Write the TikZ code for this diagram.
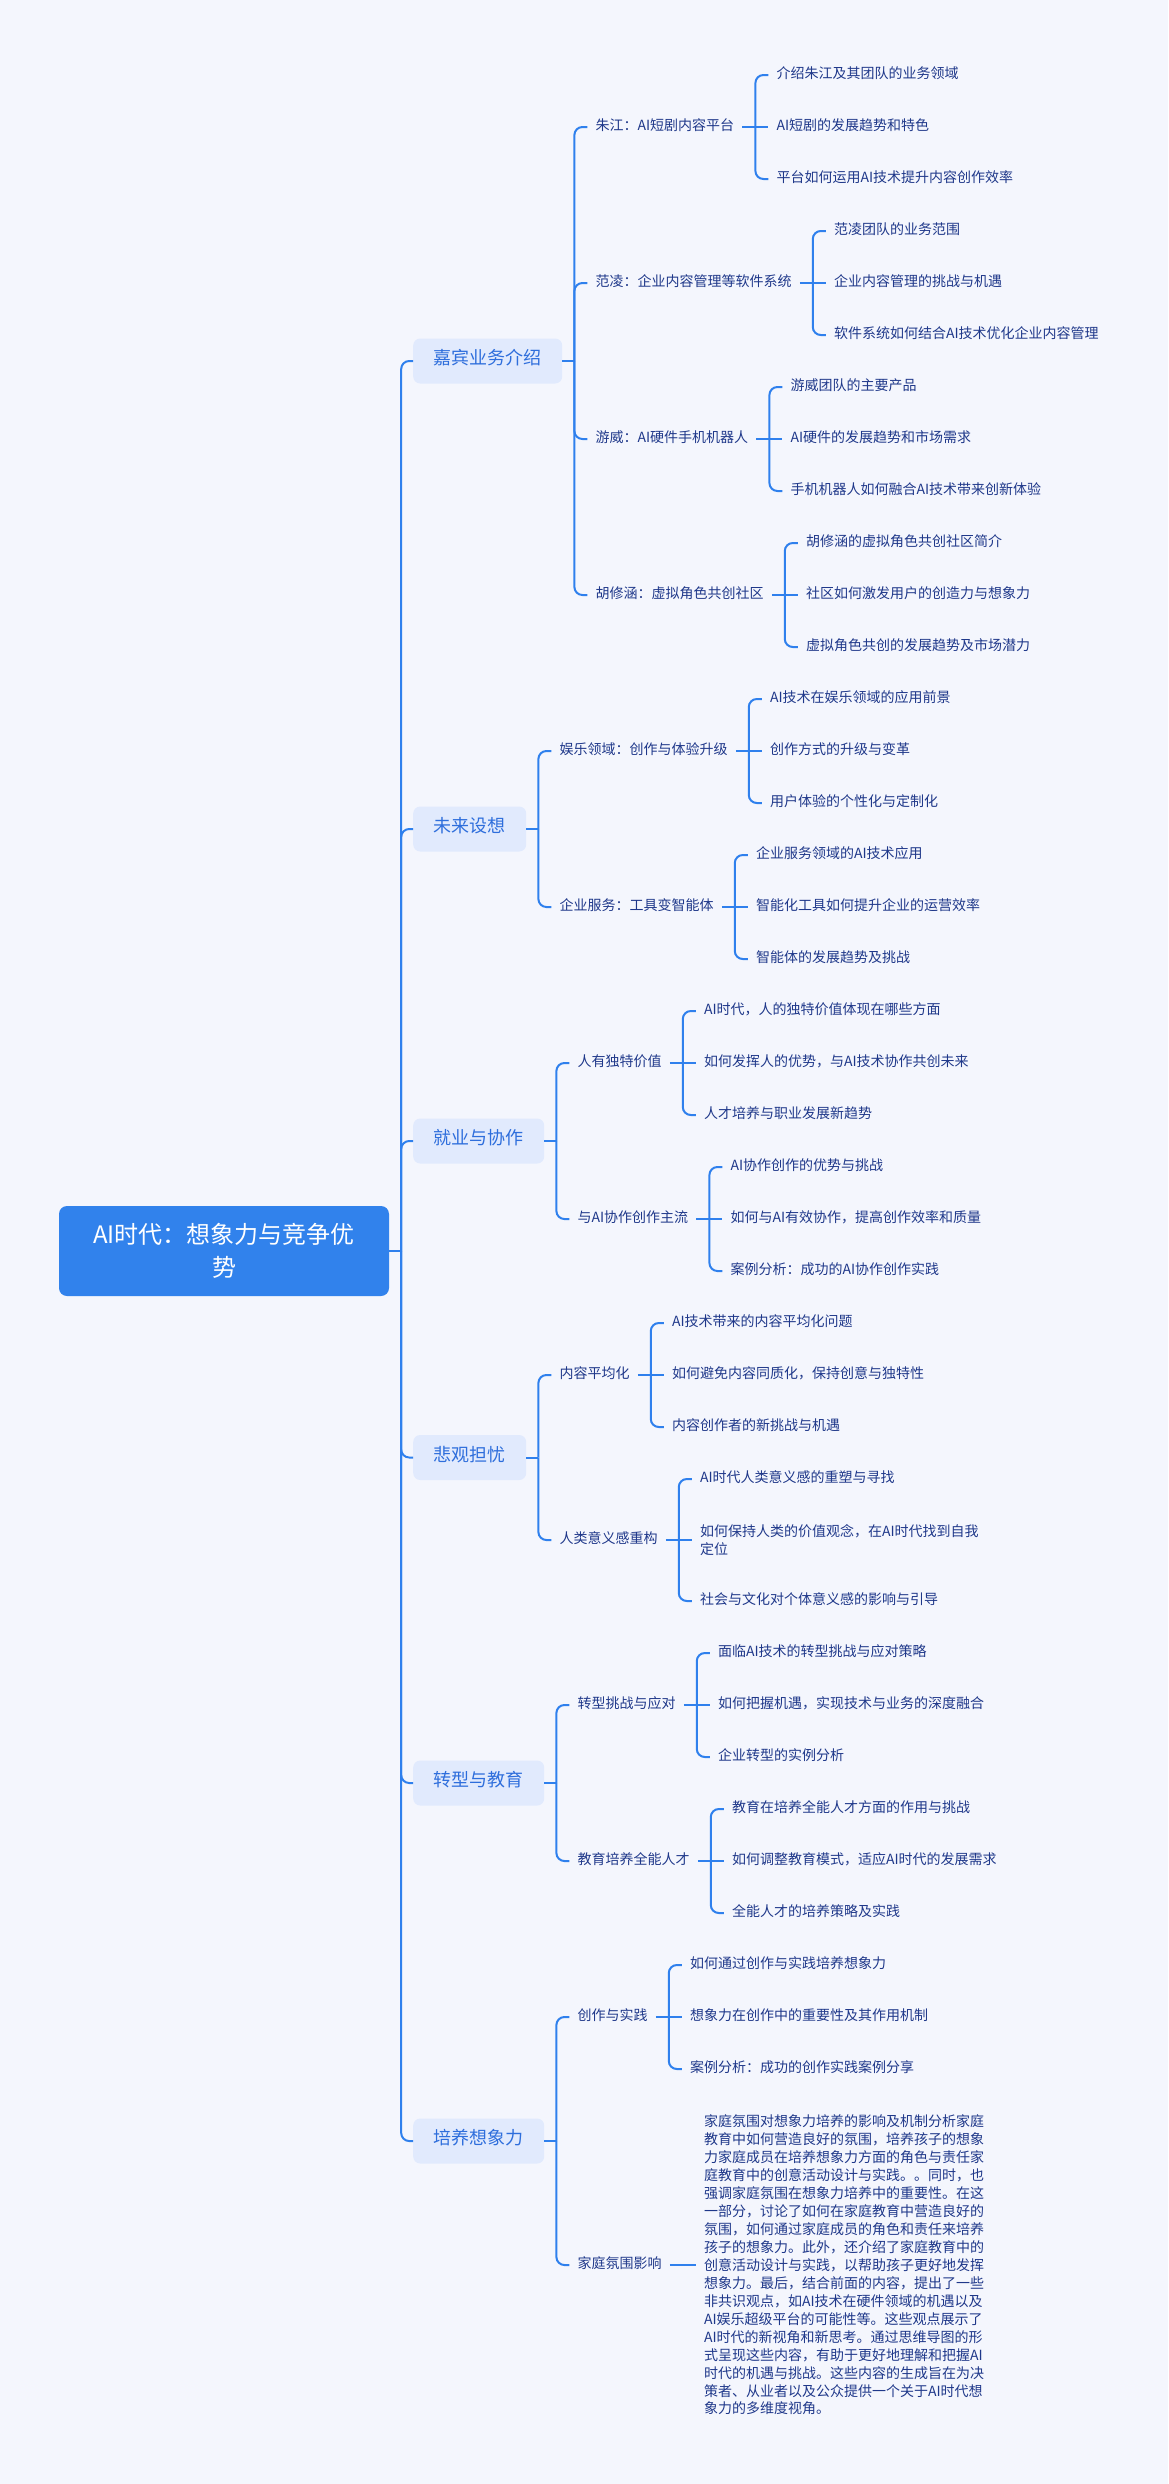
\documentclass[tikz,border=0pt]{standalone}
\usepackage{fontspec}
\setmainfont{Noto Sans CJK SC}
\usetikzlibrary{calc}
\definecolor{bgc}{RGB}{244,246,253}
\definecolor{linec}{RGB}{47,128,237}
\definecolor{rootc}{RGB}{49,130,236}
\definecolor{lonec}{RGB}{225,234,253}
\definecolor{lonet}{RGB}{46,110,220}
\definecolor{txtc}{RGB}{31,56,138}
\newcommand\mkkids[4]{%
  \coordinate (#1L) at ($(#1.east)+(21,0)$);
  \draw[conn] ($(#1.east)+(8,0)$) -- (#1L);
  \node[ltxt] (#1x) at ($(#1L)+(21,-52)$) {#2};
  \node[ltxt] (#1y) at ($(#1L)+(21,0)$) {#3};
  \node[ltxt] (#1z) at ($(#1L)+(21,52)$) {#4};
  \draw[conn] (#1L) |- ($(#1x.west)+(-8,0)$);
  \draw[conn] (#1L) -- ($(#1y.west)+(-8,0)$);
  \draw[conn] (#1L) |- ($(#1z.west)+(-8,0)$);
}
\begin{document}
\begin{tikzpicture}[x=1pt,y=-1pt,
  conn/.style={draw=linec, line width=2pt, rounded corners=8pt},
  rootbox/.style={fill=rootc, rounded corners=8pt, minimum width=330pt, minimum height=90pt, text=white, font=\fontsize{24}{33}\selectfont, align=center, inner sep=0pt},
  lonebox/.style={fill=lonec, rounded corners=7pt, minimum height=45pt, inner xsep=20.5pt, inner ysep=0pt, text=lonet, font=\fontsize{18}{22}\selectfont, anchor=west, text height=0.83em, text depth=0.07em},
  ltxt/.style={anchor=west, inner sep=0pt, text=txtc, font=\fontsize{14}{18}\selectfont, text height=0.83em, text depth=0.07em},
  mtxt/.style={anchor=west, inner sep=0pt, text=txtc, font=\fontsize{14}{18}\selectfont, align=left},
  ptxt/.style={anchor=west, inner sep=0pt, text=txtc, font=\fontsize{14}{17.95}\selectfont, align=left},
]
\fill[bgc] (0,0) rectangle (1168,2484);
\useasboundingbox (0,0) rectangle (1168,2484);

% root
\node[rootbox] (root) at (224,1251) {AI时代：想象力与竞争优\\势};
\coordinate (T) at ($(root.east)+(12,0)$);
\draw[conn] (root.east) -- (T);

% level 1
\node[lonebox] (g1) at (413,361) {嘉宾业务介绍};
\node[lonebox] (g2) at (413,829) {未来设想};
\node[lonebox] (g3) at (413,1141) {就业与协作};
\node[lonebox] (g4) at (413,1457.5) {悲观担忧};
\node[lonebox] (g5) at (413,1783) {转型与教育};
\node[lonebox] (g6) at (413,2141) {培养想象力};
\foreach \g in {g1,g2,g4,g5,g6} \draw[conn] (T) |- (\g.west);
\draw[conn] (T) |- (g3.west);

% level 2
\node[ltxt] (a1) at ($(g1.east)+(33,-234)$) {朱江：AI短剧内容平台};
\node[ltxt] (a2) at ($(g1.east)+(33,-78)$) {范凌：企业内容管理等软件系统};
\node[ltxt] (a3) at ($(g1.east)+(33,78)$) {游威：AI硬件手机机器人};
\node[ltxt] (a4) at ($(g1.east)+(33,234)$) {胡修涵：虚拟角色共创社区};
\node[ltxt] (b1) at ($(g2.east)+(33,-78)$) {娱乐领域：创作与体验升级};
\node[ltxt] (b2) at ($(g2.east)+(33,78)$) {企业服务：工具变智能体};
\node[ltxt] (c1) at ($(g3.east)+(33,-78)$) {人有独特价值};
\node[ltxt] (c2) at ($(g3.east)+(33,78)$) {与AI协作创作主流};
\node[ltxt] (d1) at ($(g4.east)+(33,-82.5)$) {内容平均化};
\node[ltxt] (d2) at ($(g4.east)+(33,82.5)$) {人类意义感重构};
\node[ltxt] (e1) at ($(g5.east)+(33,-78)$) {转型挑战与应对};
\node[ltxt] (e2) at ($(g5.east)+(33,78)$) {教育培养全能人才};
\node[ltxt] (f1) at ($(g6.east)+(33,-124)$) {创作与实践};
\node[ltxt] (f2) at ($(g6.east)+(33,124)$) {家庭氛围影响};

\foreach \p/\cs in {g1/{a1,a2,a3,a4}, g2/{b1,b2}, g3/{c1,c2}, g4/{d1,d2}, g5/{e1,e2}, g6/{f1,f2}}{
  \coordinate (\p L) at ($(\p.east)+(12,0)$);
  \draw[conn] (\p.east) -- (\p L);
  \foreach \c in \cs \draw[conn] (\p L) |- ($(\c.west)+(-8,0)$);
}

% level 3
\mkkids{a1}{介绍朱江及其团队的业务领域}{AI短剧的发展趋势和特色}{平台如何运用AI技术提升内容创作效率}
\mkkids{a2}{范凌团队的业务范围}{企业内容管理的挑战与机遇}{软件系统如何结合AI技术优化企业内容管理}
\mkkids{a3}{游威团队的主要产品}{AI硬件的发展趋势和市场需求}{手机机器人如何融合AI技术带来创新体验}
\mkkids{a4}{胡修涵的虚拟角色共创社区简介}{社区如何激发用户的创造力与想象力}{虚拟角色共创的发展趋势及市场潜力}
\mkkids{b1}{AI技术在娱乐领域的应用前景}{创作方式的升级与变革}{用户体验的个性化与定制化}
\mkkids{b2}{企业服务领域的AI技术应用}{智能化工具如何提升企业的运营效率}{智能体的发展趋势及挑战}
\mkkids{c1}{AI时代，人的独特价值体现在哪些方面}{如何发挥人的优势，与AI技术协作共创未来}{人才培养与职业发展新趋势}
\mkkids{c2}{AI协作创作的优势与挑战}{如何与AI有效协作，提高创作效率和质量}{案例分析：成功的AI协作创作实践}
\mkkids{d1}{AI技术带来的内容平均化问题}{如何避免内容同质化，保持创意与独特性}{内容创作者的新挑战与机遇}
\mkkids{e1}{面临AI技术的转型挑战与应对策略}{如何把握机遇，实现技术与业务的深度融合}{企业转型的实例分析}
\mkkids{e2}{教育在培养全能人才方面的作用与挑战}{如何调整教育模式，适应AI时代的发展需求}{全能人才的培养策略及实践}
\mkkids{f1}{如何通过创作与实践培养想象力}{想象力在创作中的重要性及其作用机制}{案例分析：成功的创作实践案例分享}

% d2 group (wrapped middle child)
\coordinate (d2L) at ($(d2.east)+(21,0)$);
\draw[conn] ($(d2.east)+(8,0)$) -- (d2L);
\node[ltxt] (d2x) at ($(d2L)+(21,-61)$) {AI时代人类意义感的重塑与寻找};
\node[mtxt] (d2y) at ($(d2L)+(21,0)$) {如何保持人类的价值观念，在AI时代找到自我\\定位};
\node[ltxt] (d2z) at ($(d2L)+(21,61)$) {社会与文化对个体意义感的影响与引导};
\draw[conn] (d2L) |- ($(d2x.west)+(-8,0)$);
\draw[conn] (d2L) -- ($(d2y.west)+(-8,0)$);
\draw[conn] (d2L) |- ($(d2z.west)+(-8,0)$);

% f2 paragraph
\node[ptxt] (f2p) at ($(f2.east)+(42,0)$) {家庭氛围对想象力培养的影响及机制分析家庭\\
教育中如何营造良好的氛围，培养孩子的想象\\
力家庭成员在培养想象力方面的角色与责任家\\
庭教育中的创意活动设计与实践。。同时，也\\
强调家庭氛围在想象力培养中的重要性。在这\\
一部分，讨论了如何在家庭教育中营造良好的\\
氛围，如何通过家庭成员的角色和责任来培养\\
孩子的想象力。此外，还介绍了家庭教育中的\\
创意活动设计与实践，以帮助孩子更好地发挥\\
想象力。最后，结合前面的内容，提出了一些\\
非共识观点，如AI技术在硬件领域的机遇以及\\
AI娱乐超级平台的可能性等。这些观点展示了\\
AI时代的新视角和新思考。通过思维导图的形\\
式呈现这些内容，有助于更好地理解和把握AI\\
时代的机遇与挑战。这些内容的生成旨在为决\\
策者、从业者以及公众提供一个关于AI时代想\\
象力的多维度视角。};
\draw[conn] ($(f2.east)+(8,0)$) -- ($(f2p.west)+(-8,0)$);
\end{tikzpicture}
\end{document}
